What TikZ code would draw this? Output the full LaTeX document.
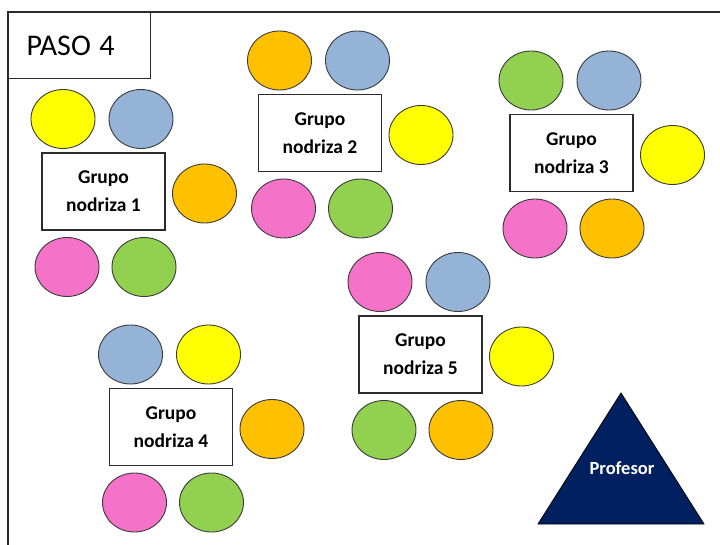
\documentclass[tikz,border=0pt]{standalone}
\usepackage{fontspec}
\setmainfont{Carlito}
\usetikzlibrary{shapes.geometric}

\definecolor{sYellow}{HTML}{FFFF00}
\definecolor{sBlue}{HTML}{95B3D7}
\definecolor{sOrange}{HTML}{FFC000}
\definecolor{sPink}{HTML}{F572C9}
\definecolor{sGreen}{HTML}{92D050}
\definecolor{seatLine}{HTML}{3A3A3A}
\definecolor{frameLine}{HTML}{2B2B2B}
\definecolor{navy}{HTML}{002060}

\tikzset{
  seat/.style={ellipse, draw=seatLine, line width=0.9pt,
    minimum width=64pt, minimum height=59pt, inner sep=0pt},
  mesa/.style={rectangle, draw=frameLine, line width=1.1pt,
    minimum width=123pt, minimum height=77pt, inner sep=0pt, align=center,
    font=\fontsize{19.5}{28}\selectfont\bfseries},
  pics/grupo/.style n args={6}{code={
    \node[mesa] (-box) at (0,0) {Grupo\\nodriza #1};
    \node[seat, fill=#2] (-tl) at (-40.5,-72.5) {};
    \node[seat, fill=#3] (-tr) at (37.5,-72.5) {};
    \node[seat, fill=#4] (-r)  at (101,2) {};
    \node[seat, fill=#5] (-bl) at (-36.5,75.5) {};
    \node[seat, fill=#6] (-br) at (40.5,75.5) {};
  }}
}

\begin{document}
\begin{tikzpicture}[x=1pt, y=-1pt]
  \useasboundingbox (0,0) rectangle (720,545);

  % page frame (top and left edges)
  \coordinate (fb) at (8,545);
  \coordinate (fc) at (8,12);
  \coordinate (fr) at (720,12);
  \draw[frameLine, line width=1.3pt] (fb) -- (fc) -- (fr);

  % step label
  \node[draw=frameLine, line width=1.1pt, anchor=north west,
        minimum width=142pt, minimum height=66pt, inner xsep=18pt, inner ysep=0pt,
        text width=106pt, align=left,
        font=\fontsize{30}{36}\selectfont] (paso) at (8,12) {PASO\hspace{-1.5pt} 4};

  % the five groups
  \pic (g1) at (103.5,191.5) {grupo={1}{sYellow}{sBlue}{sOrange}{sPink}{sGreen}};
  \pic (g2) at (320,133)     {grupo={2}{sOrange}{sBlue}{sYellow}{sPink}{sGreen}};
  \pic (g3) at (571.5,153)   {grupo={3}{sGreen}{sBlue}{sYellow}{sPink}{sOrange}};
  \pic (g4) at (171,427)     {grupo={4}{sBlue}{sYellow}{sOrange}{sPink}{sGreen}};
  \pic (g5) at (420.5,354.5) {grupo={5}{sPink}{sBlue}{sYellow}{sGreen}{sOrange}};

  % teacher
  \coordinate (ta) at (621,393);
  \coordinate (tl) at (538,524);
  \coordinate (tr) at (704,524);
  \filldraw[fill=navy, draw=black, line width=0.8pt] (ta) -- (tr) -- (tl) -- cycle;
  \node[text=white, font=\fontsize{18.5}{20}\selectfont\bfseries] (prof) at (622,468) {Profesor};
\end{tikzpicture}
\end{document}
